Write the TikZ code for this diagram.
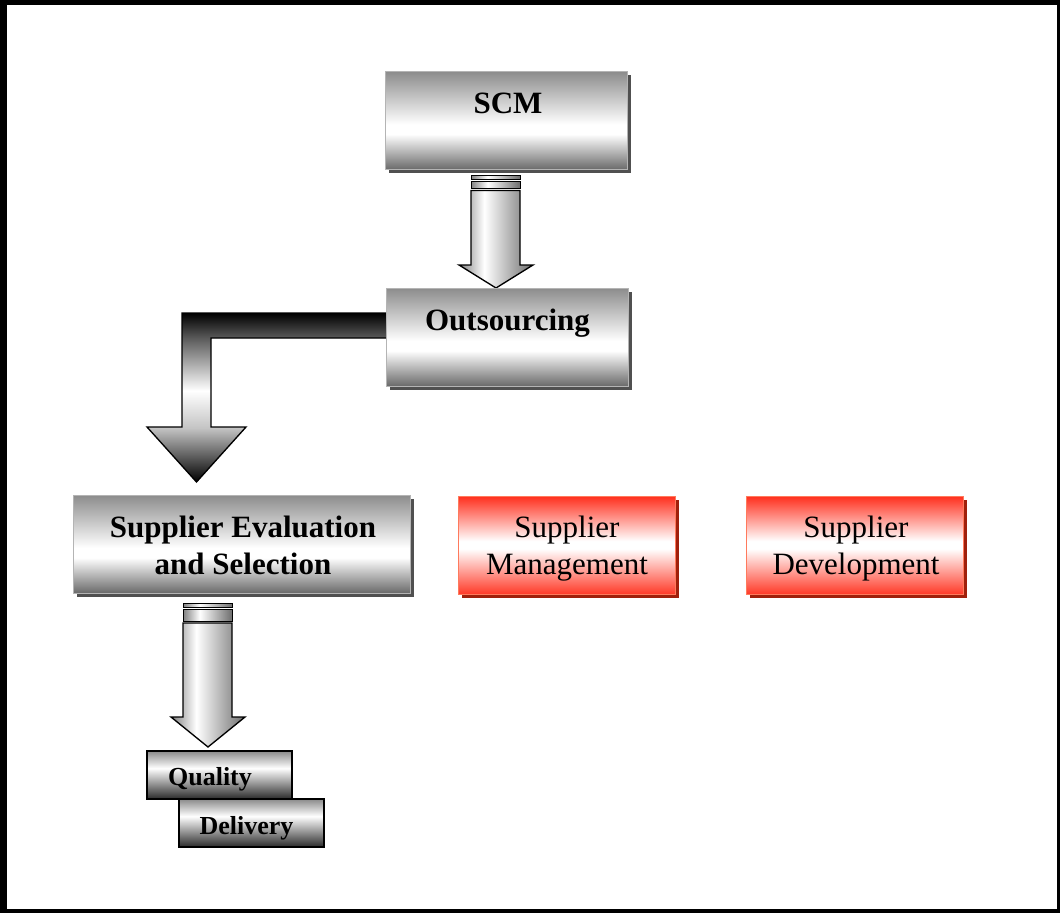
\documentclass[tikz,border=0pt]{standalone}
\usepackage{fontspec}
\setmainfont{Liberation Serif}
\usetikzlibrary{calc}
\definecolor{gTopC}{HTML}{8C8C8C}
\definecolor{gBotC}{HTML}{6A6A6A}
\definecolor{gEdgeC}{HTML}{B4B4B4}
\definecolor{gShadowC}{HTML}{505050}
\definecolor{rTopC}{HTML}{FF2E1C}
\definecolor{rBotC}{HTML}{FF3A28}
\definecolor{rEdgeC}{HTML}{FF7A5C}
\definecolor{rShadowC}{HTML}{A0200C}
\definecolor{sTopC}{HTML}{8A8A8A}
\definecolor{sBotC}{HTML}{2A2A2A}
\definecolor{ahLeftC}{HTML}{808080}
\definecolor{ahRightC}{HTML}{6E6E6E}
\definecolor{bentMidC}{HTML}{C4C4C4}
\definecolor{bentUpC}{HTML}{5A5A5A}
\pgfdeclareverticalshading{graybox}{100bp}{color(0bp)=(gBotC); color(25bp)=(gBotC); color(43bp)=(white); color(48bp)=(white); color(75bp)=(gTopC); color(100bp)=(gTopC)}
\pgfdeclareverticalshading{redbox}{100bp}{color(0bp)=(rBotC); color(25bp)=(rBotC); color(48bp)=(white); color(52bp)=(white); color(75bp)=(rTopC); color(100bp)=(rTopC)}
\pgfdeclareverticalshading{smallbox}{100bp}{color(0bp)=(sBotC); color(25bp)=(sBotC); color(57bp)=(white); color(75bp)=(sTopC); color(100bp)=(sTopC)}
\pgfdeclarehorizontalshading{shaftshade}{100bp}{color(0bp)=(ahLeftC); color(25bp)=(ahLeftC); color(42bp)=(white); color(75bp)=(ahRightC); color(100bp)=(ahRightC)}
\pgfdeclareverticalshading{bentshade}{100bp}{color(0bp)=(black); color(25bp)=(black); color(41bp)=(bentMidC); color(52bp)=(white); color(67.6bp)=(bentUpC); color(75bp)=(black); color(100bp)=(black)}
\pgfdeclarelayer{bg}
\pgfsetlayers{bg,main}
\tikzset{
  gbox/.style={draw=gEdgeC, line width=0.75pt, shading=graybox, minimum height=73.5pt, inner sep=0pt, outer sep=0pt},
  rbox/.style={draw=rEdgeC, line width=0.75pt, shading=redbox, minimum width=162.75pt, minimum height=73.5pt, inner sep=0pt, outer sep=0pt},
  sbox/.style={draw=black, line width=1.1pt, shading=smallbox, minimum width=108.75pt, minimum height=36pt, inner sep=0pt, outer sep=0pt},
  btxt/.style={font=\fontsize{23.25}{27.75}\selectfont\bfseries, inner sep=0pt, align=center},
  rtxt/.style={font=\fontsize{23.25}{27.75}\selectfont, inner sep=0pt, align=center},
  stxt/.style={font=\fontsize{19.5}{23}\selectfont\bfseries, inner sep=0pt},
  blockarrow/.style={draw=black, line width=1pt, shading=shaftshade},
  barstyle/.style={draw=black, line width=0.5pt, shading=shaftshade},
}
\newcommand\gshadow[2]{\fill[#2] ([shift={(4,4)}]#1.south west) rectangle ([shift={(4,4)}]#1.north east);}
% #1 top centre of the first bar, #2 tip, #3 shaft top offset, #4 head length
\newcommand\straightarrow[4]{%
  \draw[barstyle] ($(#1)+(-24.5,0)$) rectangle ($(#1)+(24.5,4)$);
  \draw[barstyle] ($(#1)+(-24.5,6)$) rectangle ($(#1)+(24.5,#3-2)$);
  \draw[blockarrow] ($(#1)+(-24.5,#3)$) -- ($(#2)+(-25,-#4)$) -- ($(#2)+(-37,-#4)$) -- (#2)
     -- ($(#2)+(37,-#4)$) -- ($(#2)+(24,-#4)$) -- ($(#1)+(24.5,#3)$) -- cycle;}
\begin{document}
\begin{tikzpicture}[x=0.75pt,y=-0.75pt]
\useasboundingbox (0,0) rectangle (1060,913);
% nodes
\node[gbox, minimum width=181.5pt] (scm) at (506,120.5) {};
\node[btxt, anchor=base] (scmt) at (508,114) {SCM};
\node[gbox, minimum width=181.5pt] (out) at (507,337) {};
\node[btxt, anchor=base] (outt) at (507.5,330) {Outsourcing};
\node[gbox, minimum width=252.75pt] (sel) at (241.5,544) {};
\node[btxt, anchor=base] (selt) at (243,574) {Supplier Evaluation\\and Selection};
\node[rbox] (mgmt) at (566.5,545) {};
\node[rtxt, anchor=base] (mgmtt) at (567,574) {Supplier\\Management};
\node[rbox] (dev) at (854.5,545) {};
\node[rtxt, anchor=base] (devt) at (856,574) {Supplier\\Development};
\node[sbox] (qual) at (219.5,775) {};
\node[stxt, anchor=base] (qualt) at (210,785) {Quality};
\node[sbox] (deliv) at (251.5,823) {};
\node[stxt, anchor=base] (delivt) at (246.5,834) {Delivery};
\begin{pgfonlayer}{bg}
  % frame
  \fill[black] (0,0) rectangle (1060,913);
  \fill[white] (7,5) rectangle (1057,909);
  % shadows
  \gshadow{scm}{gShadowC}
  \gshadow{out}{gShadowC}
  \gshadow{sel}{gShadowC}
  \gshadow{mgmt}{rShadowC}
  \gshadow{dev}{rShadowC}
  % SCM -> Outsourcing
  \coordinate (a1top) at ($(scm.south)+(-10.5,6)$);
  \coordinate (a1tip) at ($(out.north)+(-11,0)$);
  \straightarrow{a1top}{a1tip}{15}{23}
  % Outsourcing -> Supplier Evaluation (bent)
  \coordinate (btip) at ($(sel.north)+(-45,-13)$);
  \draw[draw=black, line width=1pt, shading=bentshade]
    ($(out.west)+(2,-24)$) -- ($(btip)+(-14.5,-169)$) -- ($(btip)+(-14.5,-55)$)
    -- ($(btip)+(-49.5,-55)$) -- (btip) -- ($(btip)+(49.5,-55)$) -- ($(btip)+(14.5,-55)$)
    -- ($(btip)+(14.5,-144)$) -- ($(out.west)+(2,1)$) -- cycle;
  % Supplier Evaluation -> Quality
  \coordinate (a3top) at ($(sel.south)+(-34,10)$);
  \coordinate (a3tip) at ($(qual.north)+(-11.5,-4)$);
  \straightarrow{a3top}{a3tip}{20}{30}
\end{pgfonlayer}
\end{tikzpicture}
\end{document}
